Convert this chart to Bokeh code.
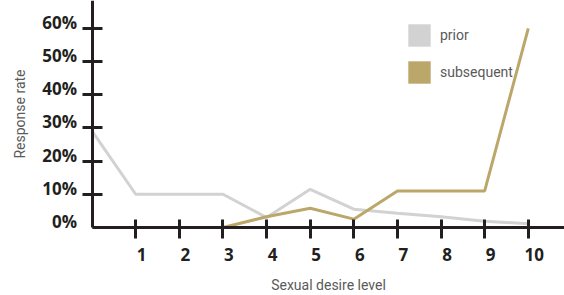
from bokeh.plotting import figure
from bokeh.models import (Range1d, FixedTicker, Legend, LegendItem, LabelSet,
                          ColumnDataSource, CustomJSTickFormatter)
from bokeh.core.properties import value
from bokeh.embed import file_html
from bokeh.resources import INLINE

levels = [0, 1, 2, 3, 4, 5, 6, 7, 8, 9, 10]
prior = [29, 10, 10, 10, 3, 11.5, 5.5, 4.3, 3.2, 1.9, 1.1]
subsequent = [0, 0, 0, 0, 3.2, 5.8, 2.5, 11, 11, 11, 60]
x_ticks = [1, 2, 3, 4, 5, 6, 7, 8, 9, 10]
x_tick_labels = ["1", "2", "3", "4", "5", "6", "7", "8", "9", "10"]
y_ticks = [0, 10, 20, 30, 40, 50, 60]
y_tick_labels = ["0%", "10%", "20%", "30%", "40%", "50%", "60%"]

GREY = "#d2d2d3"
GOLD = "#bca76b"
DARK = "#231f20"
TXT = "#5a5a5a"

X_MAX, Y_MAX = 10.83, 68.37
p = figure(width=564, height=295, output_backend="svg", toolbar_location=None,
           x_range=Range1d(-2.1, X_MAX), y_range=Range1d(-20.5, Y_MAX),
           min_border=0)
p.outline_line_color = None
p.xgrid.visible = False
p.ygrid.visible = False
p.background_fill_color = "white"
p.border_fill_color = "white"

r_prior = p.line(levels, prior, line_color=GREY, line_width=3)
r_sub = p.line(levels, subsequent, line_color=GOLD, line_width=3)

blank = CustomJSTickFormatter(code="return ''")
for ax in (p.xaxis[0], p.yaxis[0]):
    ax.fixed_location = 0
    ax.axis_line_color = DARK
    ax.axis_line_width = 3
    ax.major_tick_line_color = DARK
    ax.major_tick_line_width = 3
    ax.minor_tick_line_color = None
    ax.formatter = blank
    ax.axis_label_text_font = "Roboto"
    ax.axis_label_text_font_style = "normal"
    ax.axis_label_text_font_size = "14px"
    ax.axis_label_text_color = TXT

p.xaxis.bounds = (0, X_MAX)
p.xaxis.ticker = FixedTicker(ticks=x_ticks)
p.xaxis.major_tick_in = 8
p.xaxis.major_tick_out = 11
p.xaxis.axis_label = "Sexual desire level"
p.xaxis.axis_label_standoff = 38

p.yaxis.bounds = (0, Y_MAX)
p.yaxis.ticker = FixedTicker(ticks=[t for t in y_ticks if t > 0])
p.yaxis.major_tick_in = 10
p.yaxis.major_tick_out = 10
p.yaxis.axis_label = "Response rate"
p.yaxis.axis_label_standoff = 55

xsrc = ColumnDataSource(dict(x=x_ticks, y=[0] * len(x_ticks), t=x_tick_labels))
ysrc = ColumnDataSource(dict(x=[0] * len(y_ticks), y=y_ticks, t=y_tick_labels))
label_style = dict(text_baseline=value("middle"), text_font=value("Open Sans"),
                   text_font_style=value("bold"), text_font_size=value("17px"),
                   text_color=value(DARK))
p.add_layout(LabelSet(x="x", y="y", text="t", source=xsrc, x_offset=6, y_offset=-27,
                      text_align=value("center"), **label_style))
p.add_layout(LabelSet(x="x", y="y", text="t", source=ysrc, x_offset=-15, y_offset=6,
                      text_align=value("right"), **label_style))

sq_prior = p.rect(x=levels, y=prior, width=0, height=0, fill_color=GREY, line_color=None)
sq_sub = p.rect(x=levels, y=subsequent, width=0, height=0, fill_color=GOLD, line_color=None)
legend = Legend(items=[LegendItem(label="prior", renderers=[sq_prior]),
                       LegendItem(label="subsequent", renderers=[sq_sub])],
                location=(405, 209), glyph_width=28, glyph_height=28,
                label_height=28, spacing=9, label_standoff=7, padding=0, margin=0,
                border_line_color=None, background_fill_alpha=0,
                label_text_font="Roboto", label_text_font_size="14px",
                label_text_color=TXT)
p.add_layout(legend)

open("out.html", "w").write(file_html(p, INLINE))
